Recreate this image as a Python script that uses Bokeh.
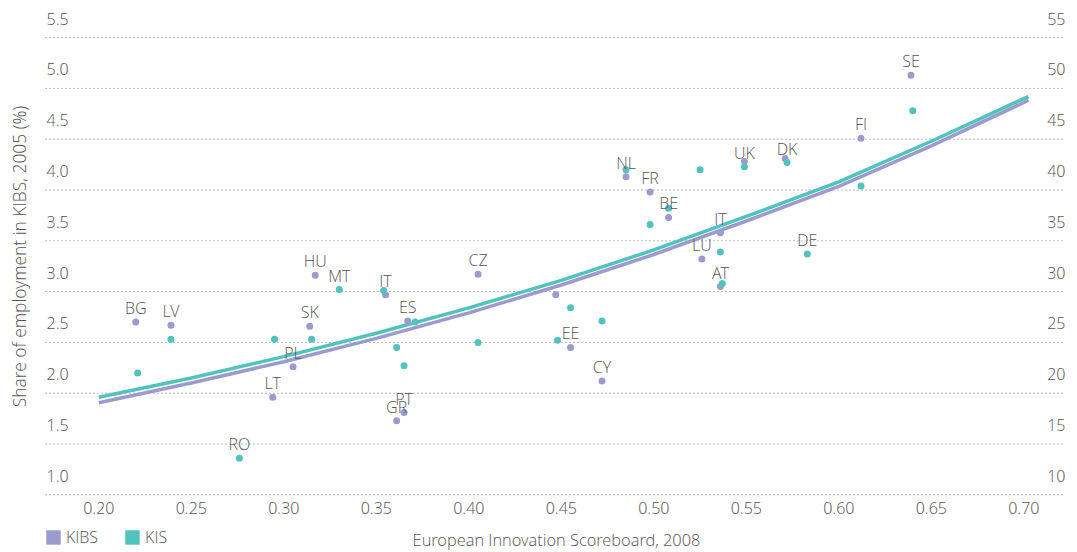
import numpy as np
from bokeh.plotting import figure
from bokeh.models import ColumnDataSource, Range1d, Legend, LegendItem
from bokeh.core.properties import value
from bokeh.embed import file_html
from bokeh.resources import INLINE

# ---------------- data ----------------
# KIBS series (left axis, share of employment in KIBS %)
kibs_countries = ["BG", "LV", "LT", "PL", "SK", "HU", "IT", "GR", "PT", "ES", "CZ", "",
                  "EE", "CY", "NL", "FR", "BE", "LU", "IT", "AT", "UK", "DK", "FI", "SE"]
kibs_eis = [0.220, 0.239, 0.294, 0.305, 0.314, 0.317, 0.355, 0.361, 0.365, 0.367, 0.405, 0.447,
            0.455, 0.472, 0.485, 0.498, 0.508, 0.526, 0.536, 0.536, 0.549, 0.571, 0.612, 0.639]
kibs_share = [2.70, 2.67, 1.96, 2.26, 2.66, 3.16, 2.97, 1.73, 1.81, 2.71, 3.17, 2.97,
              2.45, 2.12, 4.13, 3.98, 3.73, 3.32, 3.58, 3.05, 4.28, 4.31, 4.51, 5.13]
kibs_labels = ["BG", "LV", "LT", "PL", "SK", "HU", "IT", "GR", "PT", "ES", "CZ", "",
               "EE", "CY", "NL", "FR", "BE", "LU", "IT", "AT", "", "", "FI", "SE"]

# KIS series (right axis)
kis_countries = ["BG", "LV", "RO", "LT", "SK", "MT", "IT", "GR", "PT", "ES", "CZ", "",
                 "EE", "CY", "NL", "FR", "BE", "LU", "IT", "AT", "UK", "DK", "DE", "FI", "SE"]
kis_eis = [0.221, 0.239, 0.276, 0.295, 0.315, 0.330, 0.354, 0.361, 0.365, 0.371, 0.405, 0.448,
           0.455, 0.472, 0.485, 0.498, 0.508, 0.525, 0.536, 0.537, 0.549, 0.572, 0.583, 0.612, 0.640]
kis_share = [22.0, 25.3, 13.6, 25.3, 25.3, 30.2, 30.1, 24.5, 22.7, 27.0, 25.0, 25.2,
             28.4, 27.1, 42.0, 36.6, 38.2, 42.0, 33.9, 30.8, 42.3, 42.7, 33.7, 40.4, 47.8]
kis_labels = ["", "", "RO", "", "", "MT", "", "", "", "", "", "",
              "", "", "", "", "", "", "", "", "UK", "DK", "DE", "", ""]

# trend lines
trend_eis = [0.20, 0.25, 0.30, 0.35, 0.40, 0.45, 0.50, 0.55, 0.60, 0.65, 0.70, 0.7025]
kibs_trend = [1.906, 2.100, 2.310, 2.540, 2.790, 3.065, 3.365, 3.695, 4.035, 4.435, 4.861, 4.884]
kis_trend = [19.6, 21.5, 23.6, 25.9, 28.4, 31.1, 34.1, 37.4, 40.8, 44.8, 49.0, 49.2]

# ticks
x_ticks = [0.20, 0.25, 0.30, 0.35, 0.40, 0.45, 0.50, 0.55, 0.60, 0.65, 0.70]
x_tick_labels = ["0.20", "0.25", "0.30", "0.35", "0.40", "0.45", "0.50", "0.55", "0.60", "0.65", "0.70"]
y_ticks = [1.0, 1.5, 2.0, 2.5, 3.0, 3.5, 4.0, 4.5, 5.0, 5.5]
y_left_labels = ["1.0", "1.5", "2.0", "2.5", "3.0", "3.5", "4.0", "4.5", "5.0", "5.5"]
y_right_ticks = [10, 15, 20, 25, 30, 35, 40, 45, 50, 55]
y_right_labels = ["10", "15", "20", "25", "30", "35", "40", "45", "50", "55"]

x_title = "European Innovation Scoreboard, 2008"
y_title = "Share of employment in KIBS, 2005 (%)"

# ---------------- style / layout ----------------
FONT_NAME = "'Open Sans Light', 'Open Sans'"
FONT = value(FONT_NAME)
FS = "16px"
TXT = "#555555"
PURPLE = "#9b9bcd"
TEAL = "#50c3bd"
W, H = 1077, 552
PX_X, PX_Y = 1850.0, 101.6          # pixels per data unit
X0 = 0.20 - 98.3 / PX_X
X1 = X0 + W / PX_X
Y1 = 1.0 + 494.3 / PX_Y
Y0 = Y1 - H / PX_Y
GX0, GX1 = X0 + 45 / PX_X, X0 + 1065 / PX_X   # gridline extent

p = figure(width=W, height=H, x_range=Range1d(X0, X1), y_range=Range1d(Y0, Y1),
           output_backend="svg", toolbar_location=None,
           x_axis_location=None, y_axis_location=None,
           min_border=0, outline_line_color=None)
p.extra_y_ranges = {"kis": Range1d(Y0 * 10, Y1 * 10)}
p.xgrid.visible = False
p.ygrid.visible = False
p.background_fill_color = "white"

# gridlines
p.segment(x0=[GX0] * len(y_ticks), x1=[GX1] * len(y_ticks), y0=y_ticks, y1=y_ticks,
          line_color="#707070", line_width=1, line_dash="1 3")

txt = dict(text_font=FONT, text_font_size=FS, text_color=TXT)

# y tick labels (above gridlines)
p.text(x=[GX0] * len(y_ticks), y=y_ticks, text=y_left_labels, text_align="left",
       text_baseline="alphabetic", x_offset=1, y_offset=-19, **txt)
p.text(x=[GX1] * len(y_right_ticks), y=y_right_ticks, text=y_right_labels, text_align="right",
       text_baseline="alphabetic", y_offset=-19, y_range_name="kis", **txt)

# x tick labels
p.text(x=x_ticks, y=[y_ticks[0]] * len(x_ticks), text=x_tick_labels, text_align="center",
       text_baseline="alphabetic", y_offset=13, **txt)

# trend lines
p.line(trend_eis, kibs_trend, line_color=PURPLE, line_width=3.5)
p.line(trend_eis, kis_trend, line_color=TEAL, line_width=3.5, y_range_name="kis")

# points
kibs_src = ColumnDataSource(dict(x=kibs_eis, y=kibs_share, c=kibs_countries, lab=kibs_labels))
kis_src = ColumnDataSource(dict(x=kis_eis, y=kis_share, c=kis_countries, lab=kis_labels))
p.scatter("x", "y", source=kibs_src, size=7, fill_color=PURPLE, line_color=None)
p.scatter("x", "y", source=kis_src, size=7, fill_color=TEAL, line_color=None, y_range_name="kis")

# country labels
p.text("x", "y", text="lab", source=kibs_src, text_align="center", text_baseline="alphabetic",
       y_offset=-14, **txt)
p.text("x", "y", text="lab", source=kis_src, text_align="center", text_baseline="alphabetic",
       y_offset=-14, y_range_name="kis", **txt)

# axis titles
p.text(x=[X0 + 18 / PX_X], y=[Y1 - 256 / PX_Y], text=[y_title], angle=np.pi / 2,
       text_align="center", text_baseline="middle", text_font=FONT, text_font_size="17.4px",
       text_color=TXT)
p.text(x=[X0 + 556 / PX_X], y=[y_ticks[0]], text=[x_title], text_align="center",
       text_baseline="alphabetic", y_offset=45, text_font=FONT, text_font_size="16.4px",
       text_color=TXT)

# legend (swatches only; no visible data)
nan_src = dict(left=[np.nan], right=[np.nan], top=[np.nan], bottom=[np.nan])
rk = p.quad(source=ColumnDataSource(nan_src), left="left", right="right", top="top",
            bottom="bottom", fill_color=PURPLE, line_color=None)
rt = p.quad(source=ColumnDataSource(dict(nan_src)), left="left", right="right", top="top",
            bottom="bottom", fill_color=TEAL, line_color=None)
legend = Legend(items=[LegendItem(label="KIBS", renderers=[rk]),
                       LegendItem(label="KIS", renderers=[rt])],
                orientation="horizontal", location=(44, 4),
                glyph_width=18, glyph_height=18, label_height=18, label_standoff=4,
                spacing=25, padding=0, margin=0,
                background_fill_alpha=0, border_line_color=None,
                label_text_font=FONT_NAME, label_text_font_size=FS, label_text_color=TXT)
p.add_layout(legend)

open("out.html", "w").write(file_html(p, INLINE))
